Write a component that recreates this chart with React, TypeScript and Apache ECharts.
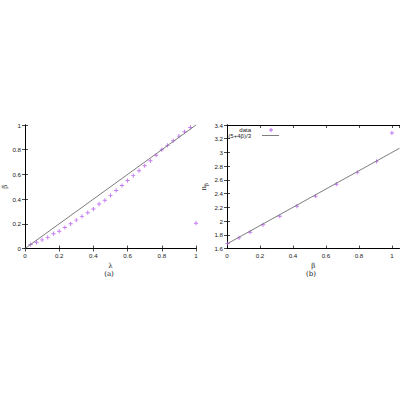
import React, { useEffect, useRef } from "react";
import * as echarts from "echarts";

// Panel (a): lambda vs beta
const lambdaVals = [0.033, 0.067, 0.1, 0.133, 0.167, 0.2, 0.233, 0.267, 0.3, 0.333, 0.367, 0.4, 0.433, 0.467, 0.5, 0.533, 0.567, 0.6, 0.633, 0.667, 0.7, 0.733, 0.767, 0.8, 0.833, 0.867, 0.9, 0.933, 0.967, 1.0];
const betaVals = [0.032, 0.05, 0.07, 0.09, 0.12, 0.14, 0.17, 0.2, 0.23, 0.26, 0.29, 0.32, 0.36, 0.39, 0.43, 0.47, 0.51, 0.55, 0.59, 0.63, 0.67, 0.71, 0.755, 0.8, 0.835, 0.873, 0.91, 0.945, 0.98, 0.205];
const diagLine = [[0, 0], [1, 1]];

// Panel (b): beta vs n_beta
const betaB = [0.004, 0.073, 0.14, 0.218, 0.32, 0.424, 0.537, 0.663, 0.79, 0.907, 1.0];
const nBeta = [1.673, 1.755, 1.838, 1.945, 2.07, 2.217, 2.362, 2.537, 2.71, 2.87, 3.284];
const fitLine = [[0, 1.667], [1.046, 3.061]];

const PTS = "#b458ee";
const LINE = "#6e6e6e";
const PLUS = "path://M0.39,0H0.61V0.39H1V0.61H0.61V1H0.39V0.61H0V0.39H0.39Z";

export default function App() {
  const ref = useRef<HTMLDivElement>(null);
  useEffect(() => {
    const chart = echarts.init(ref.current!, null, { renderer: "svg" });
    const lab = { fontSize: 6.2, color: "#222", fontFamily: "Liberation Sans, Arial, sans-serif" };
    const axLine = { show: true, lineStyle: { color: "#000", width: 1 } };
    const tick = { show: true, inside: true, length: 3, lineStyle: { color: "#000", width: 0.7 } };
    const mirrorX = (gridIndex: number, min: number, max: number) => ({
      type: "value", gridIndex, position: "top", min, max, interval: 0.2,
      axisLine: axLine, axisTick: tick, axisLabel: { show: false }, splitLine: { show: false },
    });
    const mirrorY = (gridIndex: number, min: number, max: number) => ({
      type: "value", gridIndex, position: "right", min, max, interval: 0.2,
      axisLine: axLine, axisTick: tick, axisLabel: { show: false }, splitLine: { show: false },
    });
    const option = {
      animation: false,
      grid: [
        { left: 23, top: 125, width: 173, height: 123.5 },
        { left: 227, top: 125, width: 172.5, height: 123.5 },
      ],
      xAxis: [
        {
          type: "value", gridIndex: 0, min: 0, max: 1, interval: 0.2,
          name: "λ", nameLocation: "middle", nameGap: 14,
          nameTextStyle: { fontSize: 7, color: "#222", fontFamily: "DejaVu Serif, serif" },
          axisLine: axLine, axisTick: tick, splitLine: { show: false },
          axisLabel: { ...lab, margin: 4 },
        },
        mirrorX(0, 0, 1),
        {
          type: "value", gridIndex: 1, min: 0, max: 1.046, interval: 0.2,
          name: "β", nameLocation: "middle", nameGap: 14,
          nameTextStyle: { fontSize: 7, color: "#222", fontFamily: "DejaVu Serif, serif" },
          axisLine: axLine, axisTick: tick, splitLine: { show: false },
          axisLabel: { ...lab, margin: 4, showMaxLabel: false,
            formatter: (v: number) => (Math.abs(v * 5 - Math.round(v * 5)) < 1e-6 ? String(Math.round(v * 10) / 10) : "") },
        },
        mirrorX(1, 0, 1.046),
      ],
      yAxis: [
        {
          type: "value", gridIndex: 0, min: 0, max: 1, interval: 0.2,
          name: "β", nameLocation: "middle", nameGap: 17, nameRotate: 90,
          nameTextStyle: { fontSize: 7, color: "#222", fontFamily: "DejaVu Serif, serif" },
          axisLine: axLine, axisTick: tick, splitLine: { show: false },
          axisLabel: { ...lab, margin: 4 },
        },
        mirrorY(0, 0, 1),
        {
          type: "value", gridIndex: 1, min: 1.6, max: 3.4, interval: 0.2,
          name: "{n|n}{s|β}", nameLocation: "middle", nameGap: 19, nameRotate: 90,
          nameTextStyle: {
            rich: {
              n: { fontSize: 7, color: "#222", fontFamily: "DejaVu Serif, serif" },
              s: { fontSize: 5, color: "#222", fontFamily: "DejaVu Serif, serif", verticalAlign: "bottom", padding: [3, 0, 0, 0] },
            },
          },
          axisLine: axLine, axisTick: tick, splitLine: { show: false },
          axisLabel: { ...lab, margin: 4, formatter: (v: number) => String(Math.round(v * 10) / 10) },
        },
        mirrorY(1, 1.6, 3.4),
      ],
      series: [
        {
          type: "line", xAxisIndex: 0, yAxisIndex: 0, data: diagLine, showSymbol: false,
          lineStyle: { color: LINE, width: 0.9 }, silent: true,
        },
        {
          type: "scatter", xAxisIndex: 0, yAxisIndex: 0,
          data: lambdaVals.map((x, i) => [x, betaVals[i]]),
          symbol: PLUS, symbolSize: 4.2, itemStyle: { color: PTS },
        },
        {
          type: "line", xAxisIndex: 2, yAxisIndex: 2, data: fitLine, showSymbol: false,
          lineStyle: { color: LINE, width: 0.9 }, silent: true,
        },
        {
          type: "scatter", xAxisIndex: 2, yAxisIndex: 2,
          data: betaB.map((x, i) => [x, nBeta[i]]),
          symbol: PLUS, symbolSize: 4.2, itemStyle: { color: PTS },
        },
      ],
      graphic: [
        { type: "text", x: 251, y: 130, style: { text: "data", fontSize: 6, fill: "#222", align: "right", verticalAlign: "middle", fontFamily: "Liberation Sans, Arial, sans-serif" } },
        { type: "text", x: 251, y: 135.5, style: { text: "(5+4β)/3", fontSize: 6, fill: "#222", align: "right", verticalAlign: "middle", fontFamily: "Liberation Sans, Arial, sans-serif" } },
        { type: "line", shape: { x1: 269, y1: 130, x2: 273, y2: 130 }, style: { stroke: PTS, lineWidth: 0.9 } },
        { type: "line", shape: { x1: 271, y1: 128, x2: 271, y2: 132 }, style: { stroke: PTS, lineWidth: 0.9 } },
        { type: "line", shape: { x1: 262, y1: 135.5, x2: 279, y2: 135.5 }, style: { stroke: LINE, lineWidth: 0.9 } },
        { type: "text", x: 109, y: 274, style: { text: "(a)", fontSize: 7, fill: "#222", align: "center", verticalAlign: "middle", fontFamily: "DejaVu Serif, serif" } },
        { type: "text", x: 311, y: 274, style: { text: "(b)", fontSize: 7, fill: "#222", align: "center", verticalAlign: "middle", fontFamily: "DejaVu Serif, serif" } },
      ],
    };
    chart.setOption(option as any);
    return () => chart.dispose();
  }, []);
  return <div ref={ref} style={{ position: "fixed", left: 0, top: 0, width: 400, height: 400, background: "#fff" }} />;
}
